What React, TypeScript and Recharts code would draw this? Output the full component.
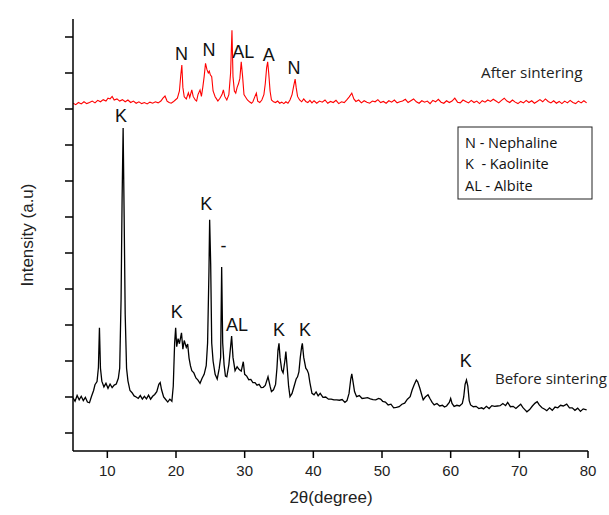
import React from "react";
import {
  LineChart,
  Line,
  XAxis,
  YAxis,
  ReferenceDot,
} from "recharts";

// 2θ positions and intensities (a.u.)
const beforeTheta = [
  5.0, 5.3, 5.6, 5.9, 6.2, 6.5, 6.8, 7.1, 7.4, 7.7, 8.0, 8.2, 8.5, 8.7, 8.85, 9.0, 9.2, 9.5, 9.8, 10.1,
  10.4, 10.7, 11.0, 11.3, 11.6, 11.8, 12.0, 12.15, 12.3, 12.45, 12.6, 12.8, 13.0, 13.3, 13.6, 13.9, 14.2, 14.5, 14.8, 15.1,
  15.4, 15.7, 16.0, 16.3, 16.6, 16.9, 17.2, 17.5, 17.7, 17.9, 18.2, 18.5, 18.8, 19.1, 19.4, 19.6, 19.8, 19.95, 20.1, 20.3,
  20.5, 20.8, 21.0, 21.2, 21.5, 21.7, 21.9, 22.1, 22.3, 22.6, 22.9, 23.2, 23.5, 23.8, 24.1, 24.4, 24.6, 24.8, 24.9, 25.05,
  25.2, 25.4, 25.7, 26.0, 26.3, 26.5, 26.65, 26.8, 27.0, 27.2, 27.4, 27.7, 27.9, 28.1, 28.3, 28.6, 28.9, 29.2, 29.5, 29.8,
  30.0, 30.3, 30.6, 30.9, 31.2, 31.5, 31.8, 32.1, 32.4, 32.7, 33.0, 33.4, 33.7, 33.9, 34.2, 34.5, 34.7, 34.85, 35.0, 35.15,
  35.4, 35.6, 35.85, 36.0, 36.2, 36.4, 36.6, 36.9, 37.2, 37.5, 37.7, 37.9, 38.1, 38.3, 38.4, 38.6, 38.9, 39.1, 39.3, 39.5,
  39.8, 40.1, 40.4, 40.7, 41.0, 41.4, 41.8, 42.2, 42.6, 43.0, 43.4, 43.8, 44.2, 44.6, 44.9, 45.2, 45.45, 45.6, 45.8, 46.0,
  46.3, 46.7, 47.1, 47.5, 47.9, 48.3, 48.7, 49.1, 49.5, 49.8, 50.1, 50.5, 50.9, 51.3, 51.7, 52.1, 52.5, 52.9, 53.3, 53.7,
  54.1, 54.4, 54.7, 55.0, 55.2, 55.5, 55.8, 56.0, 56.3, 56.7, 57.0, 57.3, 57.6, 58.0, 58.4, 58.8, 59.1, 59.4, 59.8, 60.0,
  60.2, 60.5, 60.9, 61.3, 61.7, 61.9, 62.1, 62.3, 62.5, 62.7, 62.9, 63.3, 63.7, 64.1, 64.5, 64.8, 65.2, 65.6, 66.0, 66.4,
  66.8, 67.2, 67.6, 68.0, 68.3, 68.7, 69.1, 69.5, 69.9, 70.2, 70.5, 70.8, 71.1, 71.5, 71.9, 72.3, 72.6, 72.9, 73.3, 73.7,
  74.0, 74.4, 74.8, 75.2, 75.6, 76.0, 76.4, 76.9, 77.3, 77.7, 78.1, 78.5, 78.9, 79.3, 79.8,
];
const beforeIntensity = [
  148, 138, 154, 142, 152, 140, 149, 136, 134, 152, 168, 184, 193, 232, 342, 230, 194, 178, 188, 174,
  186, 176, 183, 186, 202, 230, 420, 700, 897, 650, 380, 230, 195, 168, 162, 153, 150, 146, 154, 144,
  152, 145, 155, 144, 152, 157, 165, 185, 190, 170, 150, 143, 136, 144, 138, 180, 300, 342, 290, 312,
  298, 328, 283, 307, 288, 297, 258, 237, 223, 217, 203, 197, 188, 202, 213, 237, 300, 500, 642, 520,
  300, 250, 213, 200, 230, 260, 511, 300, 240, 208, 206, 240, 280, 319, 260, 223, 234, 226, 222, 248,
  213, 208, 198, 199, 190, 190, 183, 185, 176, 177, 182, 206, 180, 165, 170, 185, 230, 280, 299, 260,
  225, 217, 250, 276, 230, 180, 151, 160, 180, 200, 206, 220, 260, 290, 299, 260, 230, 225, 215, 190,
  160, 156, 164, 153, 160, 149, 150, 144, 144, 142, 142, 141, 143, 135, 140, 160, 200, 214, 190, 165,
  151, 154, 146, 147, 148, 145, 143, 142, 146, 144, 138, 136, 128, 130, 120, 121, 123, 130, 133, 144,
  151, 170, 185, 197, 192, 175, 155, 142, 150, 156, 145, 135, 128, 132, 125, 127, 122, 125, 135, 146,
  132, 124, 127, 125, 132, 150, 185, 197, 180, 140, 128, 123, 124, 118, 120, 117, 124, 118, 126, 124,
  125, 126, 132, 126, 135, 123, 124, 118, 125, 130, 121, 115, 109, 115, 125, 133, 137, 128, 120, 116,
  112, 120, 113, 122, 120, 127, 125, 130, 120, 120, 113, 119, 110, 117, 114,
];

const afterTheta = [
  5.0, 5.4, 5.8, 6.2, 6.6, 7.0, 7.4, 7.8, 8.2, 8.6, 9.0, 9.4, 9.8, 10.1, 10.4, 10.7, 11.0, 11.4, 11.8, 12.2,
  12.6, 13.0, 13.4, 13.8, 14.2, 14.6, 15.0, 15.4, 15.8, 16.2, 16.6, 17.0, 17.4, 17.8, 18.1, 18.4, 18.7, 19.0, 19.3, 19.6,
  19.9, 20.2, 20.5, 20.7, 20.85, 21.0, 21.2, 21.5, 21.8, 22.0, 22.3, 22.5, 22.8, 23.0, 23.2, 23.5, 23.7, 23.9, 24.1, 24.3,
  24.5, 24.7, 24.85, 25.0, 25.2, 25.4, 25.7, 25.9, 26.1, 26.4, 26.7, 26.9, 27.1, 27.4, 27.7, 27.95, 28.15, 28.3, 28.5, 28.7,
  28.9, 29.1, 29.3, 29.5, 29.7, 29.9, 30.1, 30.4, 30.7, 31.0, 31.2, 31.5, 31.7, 31.9, 32.2, 32.5, 32.8, 33.0, 33.2, 33.35,
  33.5, 33.7, 33.9, 34.2, 34.5, 34.8, 35.1, 35.4, 35.7, 36.0, 36.3, 36.6, 36.9, 37.15, 37.35, 37.5, 37.7, 38.0, 38.3, 38.6,
  38.9, 39.2, 39.5, 39.8, 40.1, 40.5, 40.9, 41.3, 41.7, 42.1, 42.5, 42.9, 43.3, 43.7, 44.1, 44.5, 44.9, 45.2, 45.6, 45.9,
  46.2, 46.6, 47.0, 47.4, 47.8, 48.2, 48.6, 49.0, 49.4, 49.8, 50.2, 50.6, 51.0, 51.4, 51.8, 52.2, 52.6, 53.0, 53.4, 53.8,
  54.2, 54.6, 55.0, 55.4, 55.8, 56.2, 56.6, 57.0, 57.4, 57.8, 58.2, 58.6, 59.0, 59.4, 59.8, 60.2, 60.6, 61.0, 61.4, 61.8,
  62.2, 62.6, 63.0, 63.4, 63.8, 64.2, 64.6, 65.0, 65.4, 65.8, 66.2, 66.6, 67.0, 67.4, 67.8, 68.2, 68.6, 69.0, 69.4, 69.8,
  70.2, 70.6, 71.0, 71.4, 71.8, 72.2, 72.6, 73.0, 73.4, 73.8, 74.2, 74.6, 75.0, 75.4, 75.8, 76.2, 76.6, 77.0, 77.4, 77.8,
  78.2, 78.6, 79.0, 79.4, 79.8,
];
const afterIntensity = [
  966, 962, 968, 964, 970, 965, 968, 972, 967, 974, 970, 976, 972, 980, 978, 985, 975, 978, 972, 976,
  970, 975, 968, 972, 966, 970, 965, 968, 964, 969, 966, 970, 967, 972, 980, 986, 972, 968, 966, 970,
  975, 980, 1000, 1045, 1072, 1010, 984, 978, 995, 982, 1003, 985, 975, 972, 990, 1003, 985, 1010, 1040, 1077,
  1060, 1050, 1055, 1045, 1040, 1000, 984, 978, 972, 980, 990, 1003, 985, 975, 990, 1050, 1169, 1040, 1000, 994,
  1010, 1020, 1035, 1081, 1040, 990, 984, 975, 970, 966, 970, 985, 994, 972, 968, 975, 990, 1020, 1065, 1081,
  1050, 1000, 975, 970, 968, 972, 966, 969, 965, 970, 966, 975, 990, 1015, 1033, 1010, 985, 975, 970, 978,
  971, 968, 974, 967, 973, 966, 972, 969, 975, 966, 971, 968, 974, 965, 970, 968, 976, 983, 994, 978,
  971, 975, 967, 973, 969, 966, 972, 970, 976, 968, 971, 966, 973, 969, 975, 967, 970, 972, 977, 968,
  973, 978, 970, 966, 973, 969, 972, 965, 974, 970, 977, 969, 966, 973, 968, 972, 980, 969, 967, 975,
  971, 967, 974, 968, 972, 965, 973, 969, 975, 971, 977, 972, 967, 974, 980, 972, 968, 975, 969, 965,
  971, 967, 974, 968, 973, 966, 971, 976, 970, 978, 971, 967, 973, 966, 971, 965, 972, 967, 974, 968,
  965, 972, 967, 973, 967,
];

const xTicks = [10, 20, 30, 40, 50, 60, 70, 80];
const yTicks = [50, 150, 250, 350, 450, 550, 650, 750, 850, 950, 1050, 1150];

// peak labels: [text, 2θ, intensity]
const afterLabels: [string, number, number][] = [
  ["N", 20.8, 1105],
  ["N", 24.8, 1116],
  ["AL", 29.8, 1109],
  ["A", 33.5, 1100],
  ["N", 37.2, 1065],
];
const beforeLabels: [string, number, number][] = [
  ["K", 12.0, 933],
  ["K", 24.4, 688],
  ["-", 26.9, 571],
  ["K", 20.1, 387],
  ["AL", 28.9, 350],
  ["K", 35.0, 338],
  ["K", 38.8, 338],
  ["K", 62.2, 250],
];

const legendLines = ["N - Nephaline", "K  - Kaolinite", "AL - Albite"];

const before = beforeTheta.map((t, i) => ({ theta: t, v: beforeIntensity[i] }));
const after = afterTheta.map((t, i) => ({ theta: t, v: afterIntensity[i] }));

const arial = "'Liberation Sans', Arial, sans-serif";
const calibri = "'Open Sans', 'Noto Sans', sans-serif";

export default function App() {
  return (
    <div style={{ position: "absolute", left: 0, top: 0, width: 609, height: 515, background: "#fff", overflow: "hidden" }}>
      <LineChart
        width={609}
        height={515}
        margin={{ top: 19, right: 21, bottom: 24, left: 0 }}
      >
        <XAxis
          type="number"
          dataKey="theta"
          domain={[5, 80]}
          ticks={xTicks}
          allowDataOverflow
          height={40}
          stroke="#000"
          strokeWidth={1.5}
          tickSize={7}
          tickMargin={7}
          tick={{ fill: "#222", fontSize: 15, fontFamily: arial }}
        />
        <YAxis
          type="number"
          domain={[0, 1200]}
          ticks={yTicks}
          allowDataOverflow
          width={73}
          stroke="#000"
          strokeWidth={1.5}
          tickSize={8}
          tickFormatter={() => ""}
        />
        <Line
          data={after}
          dataKey="v"
          stroke="#ff0000"
          strokeWidth={1.1}
          dot={false}
          isAnimationActive={false}
        />
        <Line
          data={before}
          dataKey="v"
          stroke="#000"
          strokeWidth={1.3}
          dot={false}
          isAnimationActive={false}
        />
        {[...afterLabels, ...beforeLabels].map(([txt, t, v], i) => (
          <ReferenceDot
            key={i}
            x={t}
            y={v}
            r={0}
            fill="none"
            stroke="none"
            label={{ value: txt, position: "center", fill: "#111", fontSize: 18, fontFamily: arial }}
          />
        ))}
      </LineChart>
      <svg
        width={609}
        height={515}
        style={{ position: "absolute", left: 0, top: 0, pointerEvents: "none" }}
      >
        <text
          x={27}
          y={235}
          transform="rotate(-90 27 235)"
          textAnchor="middle"
          dominantBaseline="central"
          fontSize={17}
          fontFamily={arial}
          fill="#222"
        >
          Intensity (a.u)
        </text>
        <text x={331} y={497} textAnchor="middle" dominantBaseline="central" fontSize={17} fontFamily={arial} fill="#222">
          2θ(degree)
        </text>
        <text x={481} y={72} dominantBaseline="central" fontSize={15.3} fontFamily={calibri} fill="#222">
          After sintering
        </text>
        <text x={495} y={378} dominantBaseline="central" fontSize={15} fontFamily={calibri} fill="#222">
          Before sintering
        </text>
        <rect x={458} y={127} width={134} height={72} fill="#fff" stroke="#222" strokeWidth={1} />
        {legendLines.map((s, i) => (
          <text
            key={s}
            x={465}
            y={142 + i * 21.5}
            dominantBaseline="central"
            fontSize={14.5}
            fontFamily={calibri}
            fill="#111"
            style={{ whiteSpace: "pre" }}
          >
            {s}
          </text>
        ))}
      </svg>
    </div>
  );
}
